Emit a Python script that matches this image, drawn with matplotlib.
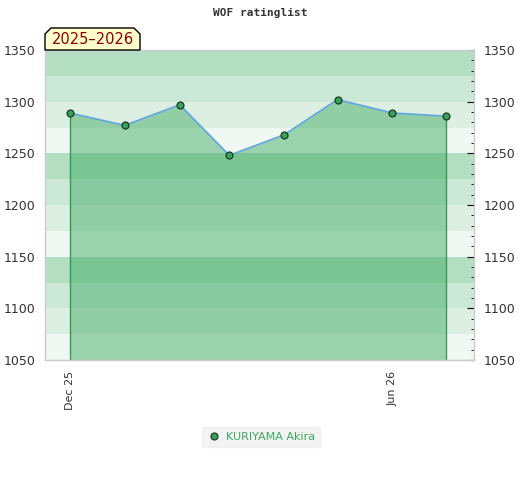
import datetime as dt
import matplotlib
matplotlib.use('Agg')
import matplotlib.pyplot as plt
from matplotlib.patches import Polygon
from matplotlib.lines import Line2D
from matplotlib.ticker import MultipleLocator

# data (monthly ratings)
months = ['2025-12-01', '2026-01-01', '2026-02-01', '2026-03-01',
          '2026-04-01', '2026-05-01', '2026-06-01', '2026-07-01']
ratings = [1289, 1277, 1297, 1248, 1268, 1302, 1289, 1286]
player = 'KURIYAMA Akira'
season = '2025\u20132026'
title = 'WOF ratinglist'
xtick_dates = ['2025-12-01', '2026-06-01']
xtick_labels = ['Dec 25', 'Jun 26']

dates = [dt.datetime.strptime(m, '%Y-%m-%d') for m in months]
fill_green = '#3ca961'

fig = plt.figure(figsize=(5.2, 4.8), dpi=100)
ax = fig.add_axes([45 / 520, 1 - 360 / 480, 429 / 520, 310 / 480])

ymin, ymax = 1050, 1350
# background stripes every 25 points, 4 shades repeating
shades = ['#eff8f2', '#ddefe3', '#cce8d6', '#b3dec2']
y = ymin
i = 0
while y < ymax:
    ax.axhspan(y, y + 25, color=shades[i % 4], lw=0, zorder=0)
    y += 25
    i += 1

ax.fill_between(dates, ratings, ymin, color=fill_green, alpha=0.47, lw=0, zorder=1)
ax.vlines([dates[0], dates[-1]], ymin, [ratings[0], ratings[-1]],
          color='#2e9e4f', lw=1, zorder=2)
ax.plot(dates, ratings, color='#64a8dc', lw=1.3, zorder=3)
ax.plot(dates, ratings, 'o', ms=5, mfc='#35a35a', mec='#1a3a22', mew=0.9, zorder=4)

ax.set_xlim(dt.datetime(2025, 11, 17), dt.datetime(2026, 7, 17))
ax.set_ylim(ymin, ymax)

ax.set_xticks([dt.datetime.strptime(d, '%Y-%m-%d') for d in xtick_dates])
ax.set_xticklabels(xtick_labels, rotation=90, fontsize=8, color='#333333')
ax.tick_params(axis='x', length=0, pad=8)

ax.set_yticks(range(1050, 1351, 50))
ax.yaxis.set_minor_locator(MultipleLocator(10))
ax.tick_params(axis='y', which='both', left=False, right=True, labelleft=True,
               labelright=True, labelsize=9, labelcolor='#333333', direction='in')
ax.tick_params(axis='y', which='major', length=5, pad=7)
ax.tick_params(axis='y', which='minor', length=2.5)

for s in ax.spines.values():
    s.set_color('#cccccc')
    s.set_linewidth(1)

fig.text(260 / 520, 1 - 13 / 480, title, ha='center', va='center',
         fontsize=8, family='DejaVu Sans Mono', weight='bold', color='#333333')

# season tag with cut top corners
x0, x1 = 45 / 520, 140 / 520
yb, yt = 1 - 50 / 480, 1 - 28 / 480
c = 6 / 520
cy = 6 / 480
tag = Polygon([(x0, yb), (x0, yt - cy), (x0 + c, yt), (x1 - c, yt), (x1, yt - cy), (x1, yb)],
              closed=True, transform=fig.transFigure, facecolor='#ffffcc',
              edgecolor='black', lw=1, zorder=5)
fig.patches.append(tag)
fig.text((x0 + x1) / 2, (yb + yt) / 2 - 0.002, season, ha='center', va='center',
         fontsize=10.5, color='#8b0000', zorder=6)

handle = Line2D([], [], ls='none', marker='o', ms=5, mfc='#35a35a', mec='#1a3a22', mew=0.9)
leg = fig.legend([handle], [player], loc='center', bbox_to_anchor=(261 / 520, 1 - 437 / 480),
                 frameon=True, fontsize=8, handletextpad=0.4, borderpad=0.45,
                 fancybox=False, handlelength=1.3)
leg.get_frame().set_facecolor('#f0f0f0')
leg.get_frame().set_edgecolor('#f0f0f0')
for t in leg.get_texts():
    t.set_color('#3ca961')

fig.savefig('out.png', dpi=100)
